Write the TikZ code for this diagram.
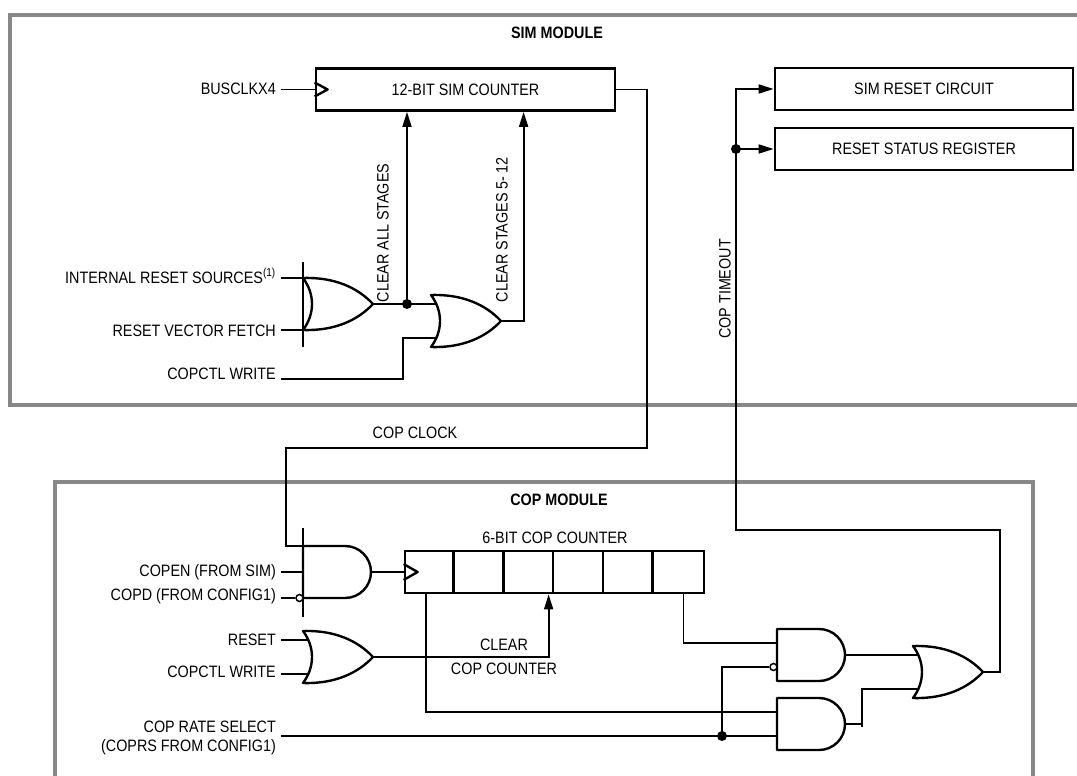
\documentclass[tikz,border=0pt]{standalone}
\usepackage{fontspec}
\setmainfont{Liberation Sans}[FakeStretch=0.87]
\usepackage{tikz}
\usetikzlibrary{arrows.meta,calc}

\newcommand\lblsize{\fontsize{16.5}{19}\selectfont}

% pics keep the canvas y axis (up), so the gate anchors use +y for the top
\tikzset{
  wire/.style={line width=1.8pt},
  arr/.style={-{Triangle[length=15pt,width=9pt]}},
  gatepath/.style={line width=2.4pt, line join=round},
  regbox/.style={draw, line width=2.8pt, inner sep=0pt, minimum height=42pt},
  module/.style={draw=black!47, line width=4pt},
  lbl/.style={inner xsep=5pt, inner ysep=1pt},
  modtitle/.style={font=\lblsize\bfseries},
  jdot/.style={circle, fill, inner sep=0pt, minimum size=10pt},
  bubble/.style={circle, draw, fill=white, line width=1.5pt, inner sep=0pt, minimum size=7pt},
  orgate/.pic={
    \draw[gatepath] (0,-26) .. controls (12,-10) and (12,10) .. (0,26)
      .. controls (32,27) and (55,16) .. (70,0)
      .. controls (55,-16) and (32,-27) .. (0,-26) -- cycle;
    \coordinate (-tl) at (0,26); \coordinate (-bl) at (0,-26);
    \coordinate (-a) at (6,17); \coordinate (-b) at (6,-17);
    \coordinate (-out) at (70,0);
  },
  andgate/.pic={
    \draw[gatepath] (42,-26) -- (0,-26) -- (0,26) -- (42,26)
      .. controls (56.4,26) and (68,14.4) .. (68,0)
      .. controls (68,-14.4) and (56.4,-26) .. (42,-26) -- cycle;
    \coordinate (-tl) at (0,26); \coordinate (-bl) at (0,-26);
    \coordinate (-in) at (0,0);
    \coordinate (-a) at (0,12); \coordinate (-b) at (0,-12);
    \coordinate (-out) at (68,0);
  }
}

\begin{document}
\begin{tikzpicture}[x=1pt,y=1pt,yscale=-1,font=\lblsize]
    \useasboundingbox (0,0) rectangle (1077,776);

    %Shape: Module frames
    \draw[module] (1077,15) -- (10,15) -- (10,405) -- (1077,405);
    \draw[module] (1033,776) -- (1033,482) -- (55,482) -- (55,776);

    % Text Node
    \node[modtitle] (simtitle) at (557,33) {SIM MODULE};
    % Text Node
    \node[modtitle] (coptitle) at (559,500) {COP MODULE};

    %Shape: Registers
    \node[regbox, minimum width=299pt] (simcnt) at (465.5,89.5) {12-BIT SIM COUNTER};
    \node[regbox, minimum width=298pt] (simrst) at (924,89) {SIM RESET CIRCUIT};
    \node[regbox, minimum width=298pt] (rststat) at (924,149) {RESET STATUS REGISTER};
    \node[regbox, minimum width=299pt] (copcnt) at (554.5,572) {};
    \foreach \i in {1,...,5}
      \draw[line width=2.8pt] ($(copcnt.north west)+(\i*49.83,0)$) -- ($(copcnt.south west)+(\i*49.83,0)$);
    % Text Node
    \node (copcntlbl) at (555,538) {6-BIT COP COUNTER};

    %Shape: Clock inputs
    \draw[gatepath] ($(simcnt.west)+(0,-7)$) -- ++(13,7) -- ++(-13,7);
    \draw[gatepath] ($(copcnt.west)+(0,-8)$) -- ++(14,8) -- ++(-14,8);

    %Shape: Gates
    \pic (or1) at (303,304) {orgate};
    \pic (or2) at (431,321) {orgate};
    \pic (and1) at (303,572) {andgate};
    \pic (orc) at (303,657) {orgate};
    \pic (and2) at (777,655) {andgate};
    \pic (and3) at (777,724) {andgate};
    \pic (or3) at (913,672) {orgate};
    \draw[line width=2pt] ($(or1-tl)+(0,-16)$) -- ($(or1-bl)+(0,17)$);
    \draw[line width=2pt] ($(and1-tl)+(0,-18)$) -- ($(and1-bl)+(0,19)$);

    % Text Node
    \node[lbl, anchor=base east] (busclk) at (281,95) {BUSCLKX4};
    \node[lbl, anchor=base east] (intrst) at (281,283) {INTERNAL RESET SOURCES\textsuperscript{(1)}};
    \node[lbl, anchor=base east] (rstvec) at (281,336) {RESET VECTOR FETCH};
    \node[lbl, anchor=base east] (copctla) at (281,379) {COPCTL WRITE};
    \node[lbl, anchor=base east] (copen) at (281,576) {COPEN (FROM SIM)};
    \node[lbl, anchor=base east] (copd) at (281,600) {COPD (FROM CONFIG1)};
    \node[lbl, anchor=base east] (reset) at (281,645) {RESET};
    \node[lbl, anchor=base east] (copctlb) at (281,677) {COPCTL WRITE};
    \node[lbl, anchor=east, align=right] (rate) at (281,738) {COP RATE SELECT\\(COPRS FROM CONFIG1)};

    % Text Node
    \node[rotate=90] (clrall) at (383,233) {CLEAR ALL STAGES};
    \node[rotate=90] (clr512) at (502,230) {CLEAR STAGES 5-\,12};
    \node[rotate=90] (tolbl) at (725,289) {COP TIMEOUT};
    \node (clklbl) at (415,433) {COP CLOCK};
    \node (clrlbl) at (504,645) {CLEAR};
    \node (clrlbl2) at (504,669) {COP COUNTER};

    %Straight Lines: SIM module
    \draw[wire] (busclk.east |- simcnt.west) -- (simcnt.west);
    \draw[wire] (intrst.east |- or1-tl) -- (or1-tl);
    \draw[wire] (rstvec.east |- or1-bl) -- (or1-bl);
    \draw[wire] (or1-out) -- (or2-a);
    \node[jdot] (dclr) at ($(or1-out)+(34,0)$) {};
    \draw[wire, arr] (dclr.center) -- (dclr |- simcnt.south);
    \draw[wire] (copctla.base east) -| ($(or2-b)+(-34,0)$) -- (or2-b);
    \draw[wire, arr] (or2-out) -| ($(simcnt.south west)+(209,0)$);

    %Straight Lines: COP clock
    \coordinate (clkbend) at (647,448);
    \draw[wire] (simcnt.east) -| (clkbend) -| ($(and1-tl)+(-17,0)$) -- (and1-tl);

    %Straight Lines: COP timeout
    \coordinate (tobend) at (1000,530);
    \node[jdot] (tdot) at (736,149) {};
    \draw[wire] (or3-out) -| (tobend) -| (tdot.center);
    \draw[wire, arr] (tdot.center) |- (simrst.west);
    \draw[wire, arr] (tdot.center) -- (rststat.west);

    %Straight Lines: COP module
    \draw[wire] (copen.east |- and1-in) -- (and1-in);
    \node[bubble] (bub1) at ($(and1-bl)+(-3.5,0)$) {};
    \draw[wire] (copd.east |- bub1.west) -- (bub1.west);
    \draw[wire] (and1-out) -- (and1-out -| copcnt.west);
    \draw[wire] (reset.east |- orc-a) -- (orc-a);
    \draw[wire] (copctlb.east |- orc-b) -- (orc-b);
    \draw[wire, arr] (orc-out) -| ($(copcnt.south west)+(145,0)$);
    \draw[wire] ($(copcnt.south west)+(22,0)$) |- (and3-a);
    \draw[wire] ($(copcnt.south east)+(-22,0)$) |- (and2-a);
    \draw[wire] (rate.east |- and3-b) -- (and3-b);
    \node[jdot] (rdot) at ($(and3-b)+(-55,0)$) {};
    \node[bubble] (bub2) at ($(and2-b)+(-3.5,0)$) {};
    \draw[wire] (rdot.center) |- (bub2.west);
    \draw[wire] (and2-out) -- (or3-a);
    \draw[wire] (and3-out) -- ++(17,0) coordinate (j3);
    \draw[wire] ($(j3)+(0,3)$) |- (or3-b);

\end{tikzpicture}
\end{document}
